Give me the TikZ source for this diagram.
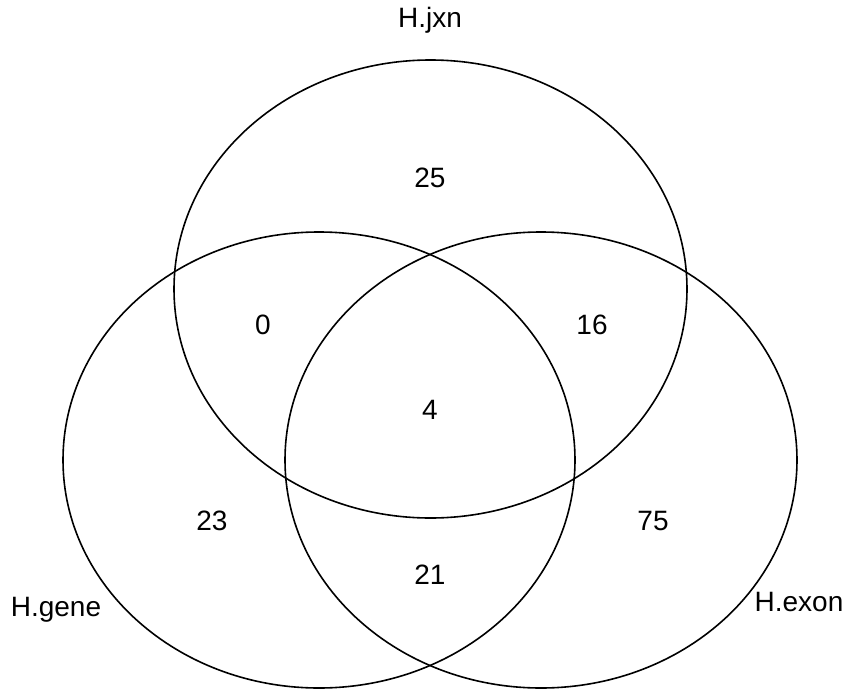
\documentclass[tikz,border=0pt]{standalone}
\usepackage{fontspec}
\setmainfont{Liberation Sans}
\begin{document}
\begin{tikzpicture}[x=1pt,y=-1pt,
  setcircle/.style={draw=black,line width=1.6pt},
  lbl/.style={font=\fontsize{28}{32}\selectfont,inner sep=0pt,anchor=center}]
\useasboundingbox (0,0) rectangle (855,691);
\draw[setcircle] (430.5,289) ellipse [x radius=256.5, y radius=229];
\draw[setcircle] (319,460) ellipse [x radius=256, y radius=228];
\draw[setcircle] (541,460) ellipse [x radius=256, y radius=228];
\node[lbl] (jxn) at (430,20) {H.jxn};
\node[lbl] (gene) at (56,610) {H.gene};
\node[lbl] (exon) at (799,602) {H.exon};
\node[lbl] (n25) at (430,178) {25};
\node[lbl] (n0) at (263,325) {0};
\node[lbl] (n16) at (592,325) {16};
\node[lbl] (n4) at (430,410) {4};
\node[lbl] (n23) at (212,521) {23};
\node[lbl] (n75) at (653,521) {75};
\node[lbl] (n21) at (430,575) {21};
\end{tikzpicture}
\end{document}
